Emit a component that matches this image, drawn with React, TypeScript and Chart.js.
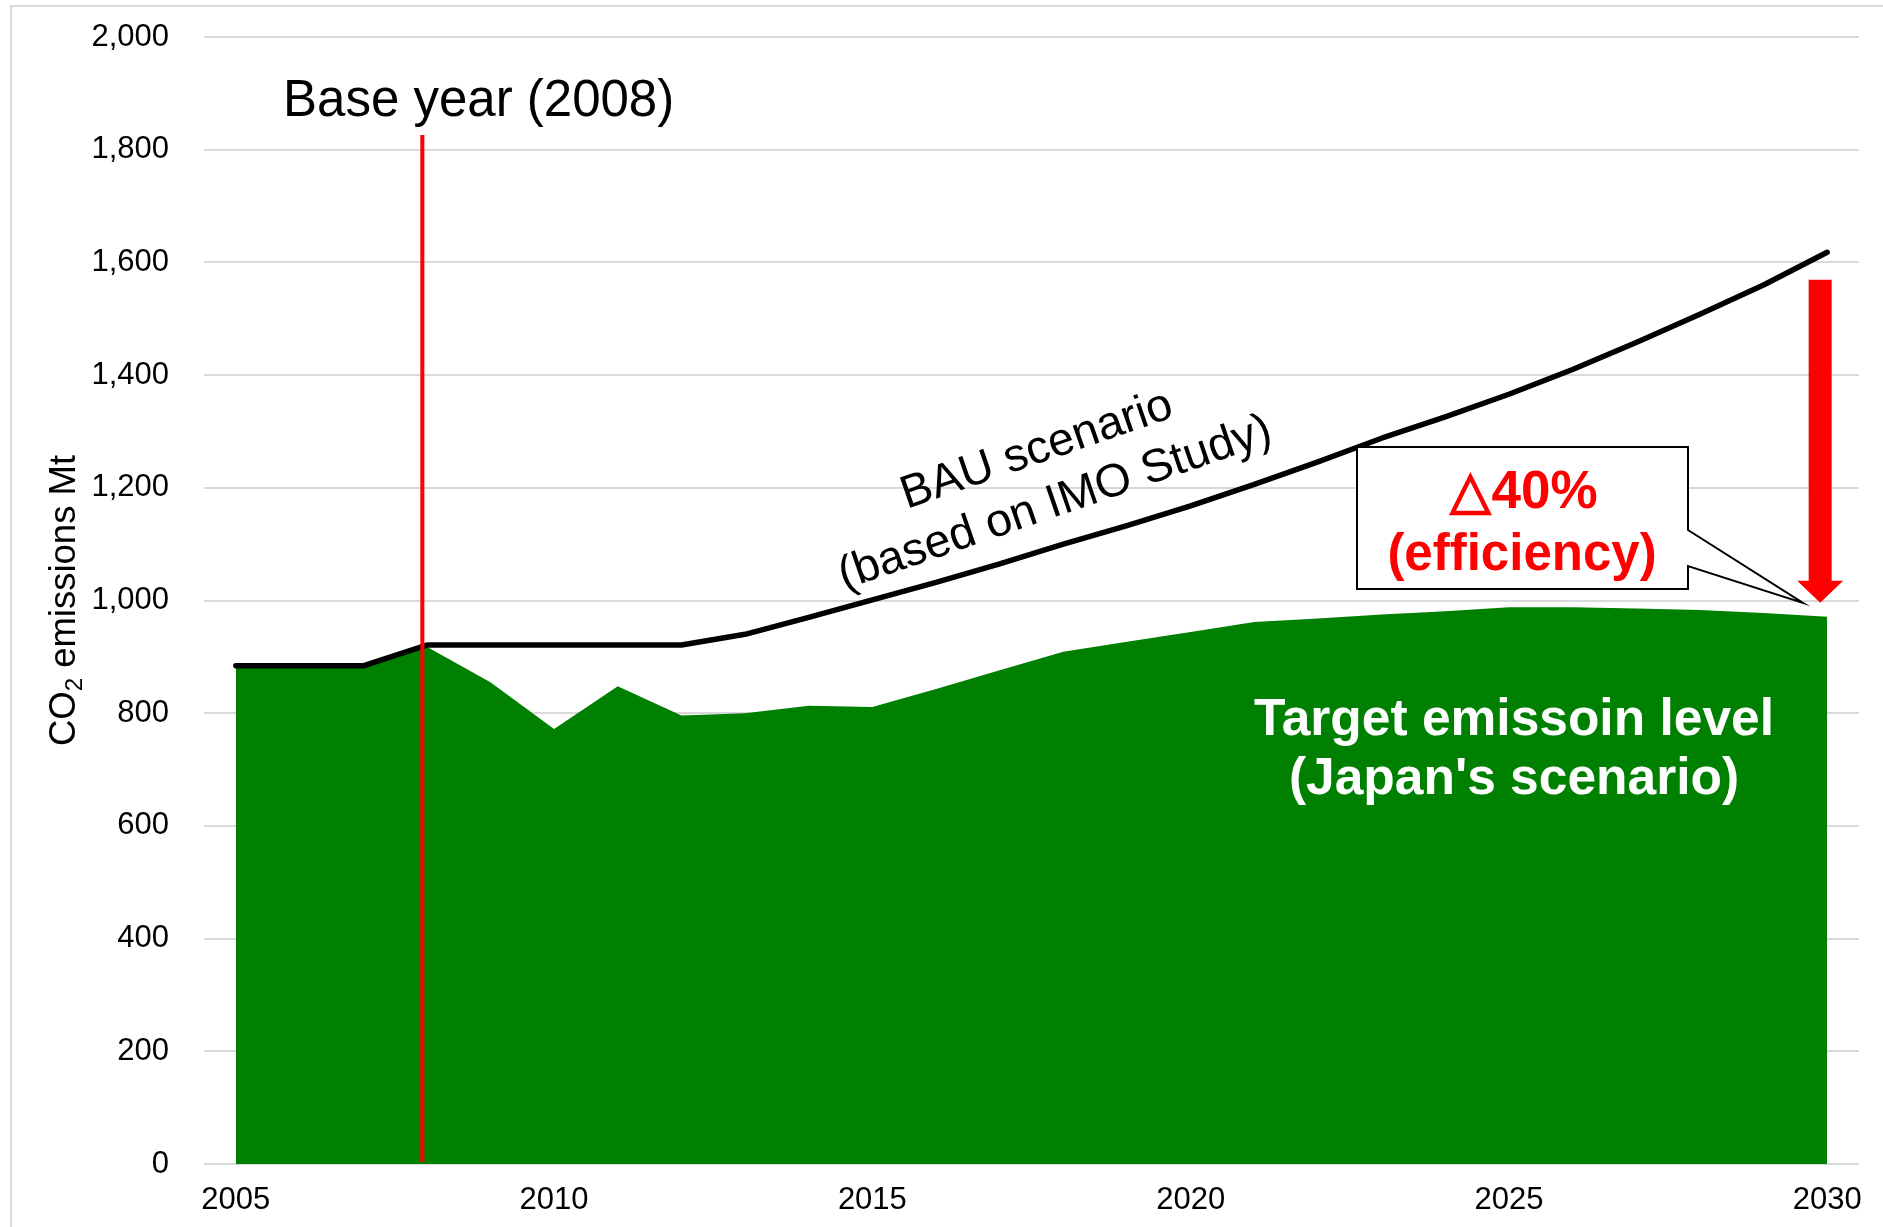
import { useEffect, useRef } from 'react';
import { Chart, registerables } from 'chart.js';

Chart.register(...registerables);

const YEARS = [
  '2005', '2006', '2007', '2008', '2009', '2010', '2011', '2012', '2013',
  '2014', '2015', '2016', '2017', '2018', '2019', '2020', '2021', '2022',
  '2023', '2024', '2025', '2026', '2027', '2028', '2029', '2030',
];

const LABELED_YEARS = ['2005', '2010', '2015', '2020', '2025', '2030'];

const BAU_SCENARIO = [
  884, 884, 884, 921, 921, 921, 921, 921, 940,
  970, 1001, 1032, 1065, 1100, 1133, 1168, 1206, 1246,
  1288, 1326, 1366, 1410, 1458, 1508, 1560, 1618,
];

const TARGET_LEVEL = [
  880, 880, 880, 918, 855, 772, 848, 796, 800,
  813, 811, 843, 876, 909, 927, 944, 962, 968,
  975, 981, 988, 988, 986, 983, 978, 971,
];

const Y_MIN = 0;
const Y_MAX = 2000;
const Y_STEP = 200;

const BASE_YEAR = '2008';
const ARROW_FROM = 1569;
const ARROW_TO = 996;

const FONT = '"Liberation Sans", Arial, Helvetica, sans-serif';

const overlayPlugin = {
  id: 'overlay',
  beforeDraw(chart: any) {
    const { ctx, width, height } = chart;
    ctx.save();
    ctx.fillStyle = '#ffffff';
    ctx.fillRect(0, 0, width, height);
    ctx.strokeStyle = '#d9d9d9';
    ctx.lineWidth = 2;
    ctx.beginPath();
    ctx.moveTo(11, height);
    ctx.lineTo(11, 6);
    ctx.lineTo(width, 6);
    ctx.stroke();
    ctx.restore();
  },
  afterDatasetsDraw(chart: any) {
    const { ctx } = chart;
    const x = chart.scales.x;
    const y = chart.scales.y;
    const bx = x.getPixelForValue(YEARS.indexOf(BASE_YEAR) - 0.07);
    ctx.save();
    ctx.strokeStyle = '#ff0000';
    ctx.lineWidth = 4;
    ctx.beginPath();
    ctx.moveTo(bx, y.getPixelForValue(1826));
    ctx.lineTo(bx, y.getPixelForValue(0) - 2);
    ctx.stroke();
    ctx.restore();
  },
  afterDraw(chart: any) {
    const { ctx } = chart;
    const x = chart.scales.x;
    const y = chart.scales.y;
    ctx.save();

    // Y axis title with subscript
    ctx.save();
    ctx.translate(75, (y.top + y.bottom) / 2);
    ctx.rotate(-Math.PI / 2);
    ctx.fillStyle = '#000';
    ctx.textBaseline = 'alphabetic';
    ctx.textAlign = 'left';
    const big = `36.5px ${FONT}`;
    const small = `24px ${FONT}`;
    ctx.font = big;
    const wCO = ctx.measureText('CO').width;
    const wRest = ctx.measureText(' emissions Mt').width;
    ctx.font = small;
    const w2 = ctx.measureText('2').width;
    const total = wCO + w2 + wRest;
    let cx = -total / 2;
    ctx.font = big;
    ctx.fillText('CO', cx, 0);
    cx += wCO;
    ctx.font = small;
    ctx.fillText('2', cx, 7);
    cx += w2;
    ctx.font = big;
    ctx.fillText(' emissions Mt', cx, 0);
    ctx.restore();

    // Base year label
    ctx.fillStyle = '#000';
    ctx.font = `51px ${FONT}`;
    ctx.textAlign = 'left';
    ctx.textBaseline = 'alphabetic';
    ctx.fillText('Base year (2008)', 283, 116);

    // BAU label (rotated)
    ctx.save();
    ctx.translate(1046, 477);
    ctx.rotate((-19 * Math.PI) / 180);
    ctx.font = `46.5px ${FONT}`;
    ctx.textAlign = 'center';
    ctx.textBaseline = 'middle';
    ctx.fillStyle = '#000';
    ctx.fillText('BAU scenario', 0, -28);
    ctx.fillText('(based on IMO Study)', 0, 28);
    ctx.restore();

    // Target label
    ctx.fillStyle = '#ffffff';
    ctx.font = `bold 51.5px ${FONT}`;
    ctx.textAlign = 'center';
    ctx.textBaseline = 'alphabetic';
    ctx.fillText('Target emissoin level', 1514, 735);
    ctx.fillText("(Japan's scenario)", 1514, 794);

    // Red arrow
    const ax = x.getPixelForValue(YEARS.length - 1 - 0.11);
    const aTop = y.getPixelForValue(ARROW_FROM);
    const aTip = y.getPixelForValue(ARROW_TO);
    const headLen = 22;
    const shaftHalf = 11.5;
    const headHalf = 23;
    ctx.fillStyle = '#ff0000';
    ctx.beginPath();
    ctx.moveTo(ax - shaftHalf, aTop);
    ctx.lineTo(ax + shaftHalf, aTop);
    ctx.lineTo(ax + shaftHalf, aTip - headLen);
    ctx.lineTo(ax + headHalf, aTip - headLen);
    ctx.lineTo(ax, aTip);
    ctx.lineTo(ax - headHalf, aTip - headLen);
    ctx.lineTo(ax - shaftHalf, aTip - headLen);
    ctx.closePath();
    ctx.fill();

    // Callout box
    ctx.beginPath();
    ctx.moveTo(1357, 447);
    ctx.lineTo(1688, 447);
    ctx.lineTo(1688, 530);
    ctx.lineTo(1803, 603);
    ctx.lineTo(1688, 566);
    ctx.lineTo(1688, 589);
    ctx.lineTo(1357, 589);
    ctx.closePath();
    ctx.fillStyle = '#ffffff';
    ctx.fill();
    ctx.strokeStyle = '#000';
    ctx.lineWidth = 2;
    ctx.lineJoin = 'miter';
    ctx.stroke();

    ctx.fillStyle = '#ff0000';
    ctx.textAlign = 'center';
    ctx.textBaseline = 'alphabetic';
    ctx.font = `bold 53px ${FONT}`;
    ctx.fillText('\u25B340%', 1524, 508);
    ctx.font = `bold 51px ${FONT}`;
    ctx.fillText('(efficiency)', 1522, 570);

    ctx.restore();
  },
};

export default function App() {
  const canvasRef = useRef<HTMLCanvasElement | null>(null);

  useEffect(() => {
    document.body.style.margin = '0';
    const canvas = canvasRef.current;
    if (!canvas) return;
    const chart = new Chart(canvas, {
      type: 'line',
      data: {
        labels: YEARS,
        datasets: [
          {
            label: 'BAU scenario',
            data: BAU_SCENARIO,
            borderColor: '#000000',
            borderWidth: 5.5,
            borderCapStyle: 'round',
            borderJoinStyle: 'round',
            pointRadius: 0,
            fill: false,
            tension: 0,
            order: 0,
          },
          {
            label: 'Target emission level',
            data: TARGET_LEVEL,
            borderWidth: 0,
            borderColor: 'rgba(0,0,0,0)',
            backgroundColor: '#008000',
            pointRadius: 0,
            fill: 'origin',
            tension: 0,
            order: 1,
          },
        ],
      },
      options: {
        responsive: false,
        animation: false,
        devicePixelRatio: 1,
        layout: { padding: { left: 0, top: 37, right: 24, bottom: 0 } },
        plugins: {
          legend: { display: false },
          tooltip: { enabled: false },
          title: { display: false },
        },
        scales: {
          x: {
            type: 'category',
            offset: true,
            grid: { display: false, drawTicks: false },
            border: { display: false },
            ticks: {
              autoSkip: false,
              maxRotation: 0,
              minRotation: 0,
              padding: 18,
              color: '#000',
              font: { family: FONT, size: 31 },
              callback: (_v: any, i: number) =>
                LABELED_YEARS.includes(YEARS[i]) ? YEARS[i] : '',
            },
            afterFit: (s: any) => {
              s.height = 63;
              s.paddingLeft = 0;
              s.paddingRight = 0;
            },
          },
          y: {
            min: Y_MIN,
            max: Y_MAX,
            grid: { color: '#d9d9d9', lineWidth: 2, drawTicks: false },
            border: { display: false },
            ticks: {
              stepSize: Y_STEP,
              padding: 35,
              color: '#000',
              font: { family: FONT, size: 31 },
              callback: (v: any) => Number(v).toLocaleString('en-US'),
            },
            afterFit: (s: any) => {
              s.width = 204;
              s.paddingTop = 0;
              s.paddingBottom = 0;
            },
          },
        },
      },
      plugins: [overlayPlugin],
    } as any);
    return () => chart.destroy();
  }, []);

  return (
    <div style={{ position: 'fixed', left: 0, top: 0, width: 1883, height: 1227 }}>
      <canvas ref={canvasRef} width={1883} height={1227} style={{ display: 'block', width: 1883, height: 1227 }} />
    </div>
  );
}
